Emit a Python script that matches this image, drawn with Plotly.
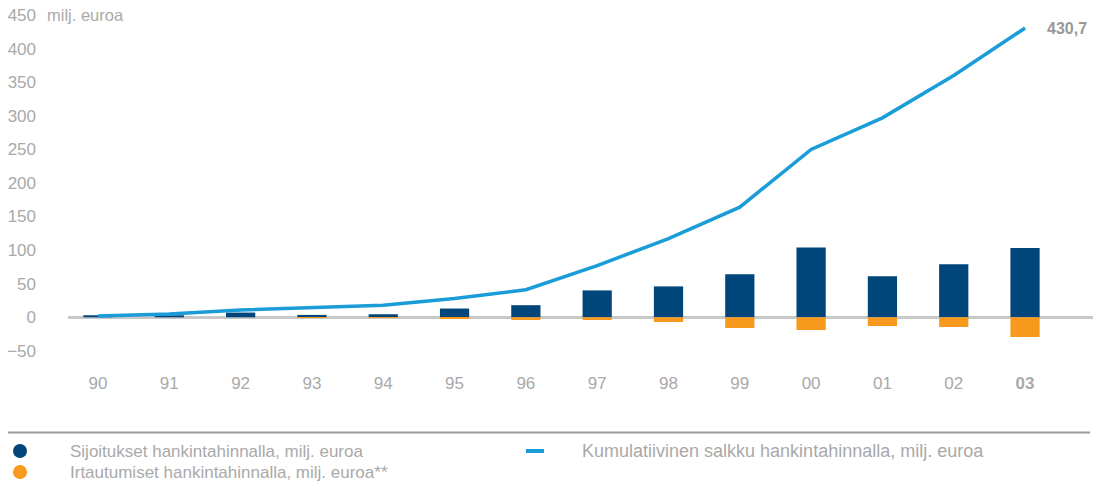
import plotly.graph_objects as go

years = ["90", "91", "92", "93", "94", "95", "96", "97", "98", "99", "00", "01", "02", "03"]
tick_labels = ["90", "91", "92", "93", "94", "95", "96", "97", "98", "99", "00", "01", "02", "<b>03</b>"]
investments = [3, 3, 7, 3.5, 4.5, 13, 18, 40, 46, 64, 104, 61, 79, 103]
divestments = [0, 0, 0, -1, -1, -2.5, -4, -4, -7, -16, -19, -13, -14.5, -29.4]
cumulative = [2, 5, 11, 14, 18, 28, 41, 77, 117, 164, 250, 297, 360, 430.7]

DARK = "#00467a"
ORANGE = "#f7991c"
LINE = "#199cd8"
GREY = "#a9a9a9"
FONT = "Liberation Sans, Arial, sans-serif"

W, H = 1093, 484
L, R, T, B = 68, 0, 5, 113
PW, PH = W - L - R, H - T - B


def px(x):
    return (x - L) / PW


def py(y):
    return (H - B - y) / PH


fig = go.Figure()
fig.add_trace(go.Bar(x=years, y=investments, marker=dict(color=DARK, line=dict(width=0)),
                     name="Sijoitukset hankintahinnalla, milj. euroa", showlegend=False))
fig.add_trace(go.Bar(x=years, y=divestments, marker=dict(color=ORANGE, line=dict(width=0)),
                     name="Irtautumiset hankintahinnalla, milj. euroa**", showlegend=False))
fig.add_trace(go.Scatter(x=years, y=cumulative, mode="lines", line=dict(color=LINE, width=3.5),
                         name="Kumulatiivinen salkku hankintahinnalla, milj. euroa", showlegend=False))

fig.update_layout(
    width=W, height=H,
    margin=dict(l=L, r=R, t=T, b=B),
    plot_bgcolor="white", paper_bgcolor="white",
    barmode="relative", bargap=0.59,
    font=dict(family=FONT, color=GREY, size=16),
    xaxis=dict(range=[-0.4207, 13.953], tickmode="array", tickvals=years, ticktext=tick_labels,
               showgrid=False, showline=False, ticks="", tickfont=dict(size=17, color=GREY),
               fixedrange=True),
    yaxis=dict(range=[-80, 465], tickvals=[-50, 0, 50, 100, 150, 200, 250, 300, 350, 400, 450],
               showgrid=False, zeroline=True, zerolinecolor="#c8c8c8", zerolinewidth=3,
               ticks="", tickfont=dict(size=17, color=GREY), ticklabelstandoff=31),
)

annotations = [
    dict(x=px(45), y=py(15), xref="paper", yref="paper", text="milj. euroa", showarrow=False,
         xanchor="left", yanchor="middle", font=dict(size=16.5, color=GREY)),
    dict(x=px(1045), y=py(29), xref="paper", yref="paper", text="<b>430,7</b>", showarrow=False,
         xanchor="left", yanchor="middle", font=dict(size=16, color="#999999")),
    dict(x=px(68), y=py(451), xref="paper", yref="paper", text="Sijoitukset hankintahinnalla, milj. euroa",
         showarrow=False, xanchor="left", yanchor="middle", font=dict(size=17, color=GREY)),
    dict(x=px(68), y=py(472), xref="paper", yref="paper", text="Irtautumiset hankintahinnalla, milj. euroa**",
         showarrow=False, xanchor="left", yanchor="middle", font=dict(size=17, color=GREY)),
    dict(x=px(580), y=py(451), xref="paper", yref="paper", text="Kumulatiivinen salkku hankintahinnalla, milj. euroa",
         showarrow=False, xanchor="left", yanchor="middle", font=dict(size=18, color=GREY)),
]
fig.update_layout(annotations=annotations)

shapes = [
    dict(type="line", xref="paper", yref="paper", x0=px(8), x1=px(1090), y0=py(432.5), y1=py(432.5),
         line=dict(color="#9a9a9a", width=2)),
    dict(type="circle", xref="paper", yref="paper", xsizemode="pixel", ysizemode="pixel",
         xanchor=px(20), yanchor=py(451), x0=-7, x1=7, y0=-7, y1=7, fillcolor=DARK, line=dict(width=0)),
    dict(type="circle", xref="paper", yref="paper", xsizemode="pixel", ysizemode="pixel",
         xanchor=px(20), yanchor=py(472), x0=-7, x1=7, y0=-7, y1=7, fillcolor=ORANGE, line=dict(width=0)),
    dict(type="rect", xref="paper", yref="paper", xsizemode="pixel", ysizemode="pixel",
         xanchor=px(535), yanchor=py(451), x0=-9, x1=9, y0=-2, y1=2, fillcolor=LINE, line=dict(width=0)),
]
fig.update_layout(shapes=shapes)

fig.write_html("out.html", config={"displayModeBar": False},
               post_script="document.body.style.margin='0';document.body.style.overflow='hidden';")
